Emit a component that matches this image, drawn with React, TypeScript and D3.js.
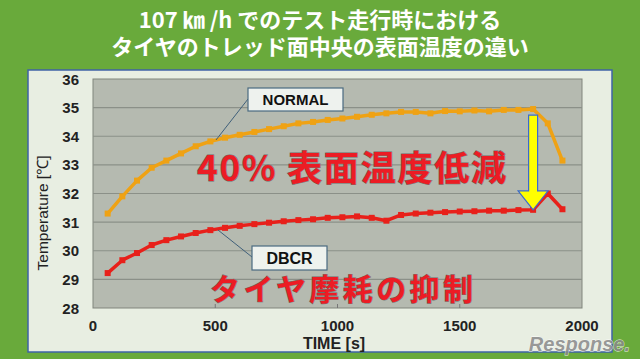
import React from 'react';
import * as d3 from 'd3';

const times = [60, 120, 180, 240, 300, 360, 420, 480, 540, 600, 660, 720, 780, 840, 900, 960,
  1020, 1080, 1140, 1200, 1260, 1320, 1380, 1440, 1500, 1560, 1620, 1680, 1740, 1800, 1860, 1920];
const normal = [31.3, 31.9, 32.45, 32.9, 33.15, 33.4, 33.65, 33.82, 33.95, 34.05, 34.15, 34.25, 34.35, 34.45, 34.5, 34.57,
  34.62, 34.68, 34.75, 34.8, 34.85, 34.85, 34.8, 34.88, 34.87, 34.9, 34.87, 34.92, 34.92, 34.95, 34.45, 33.15];
const dbcr = [29.22, 29.67, 29.92, 30.2, 30.37, 30.5, 30.62, 30.72, 30.8, 30.87, 30.93, 30.98, 31.03, 31.07, 31.1, 31.15,
  31.17, 31.2, 31.15, 31.05, 31.25, 31.3, 31.33, 31.35, 31.37, 31.38, 31.4, 31.4, 31.42, 31.43, 32.0, 31.45];
const xTicks = [0, 500, 1000, 1500, 2000];
const yTicks = [28, 29, 30, 31, 32, 33, 34, 35, 36];
const titleLines = ['107 ㎞ /h でのテスト走行時における', 'タイヤのトレッド面中央の表面温度の違い'];

const W = 640, H = 359;
const plot = { left: 93, top: 79, right: 582, bottom: 308 };
const jp = '"Noto Sans CJK JP", sans-serif';
const sans = '"Liberation Sans", Arial, sans-serif';

export default function App() {
  const x = d3.scaleLinear().domain([0, 2000]).range([plot.left, plot.right]);
  const y = d3.scaleLinear().domain([28, 36]).range([plot.bottom, plot.top]);
  const line = d3.line<number>().x((_, i) => x(times[i])).y(d => y(d));

  // arrow between the two curves at t = 1800 s
  const ai = times.indexOf(1800);
  const ax = x(times[ai]);
  const aTop = y(normal[ai]) + 6;
  const aTip = y(dbcr[ai]);
  const headTop = aTip - 19;
  const arrow = `M${ax - 4.5},${aTop} L${ax + 4.5},${aTop} L${ax + 4.5},${headTop} L${ax + 15},${headTop} L${ax},${aTip} L${ax - 15},${headTop} L${ax - 4.5},${headTop} Z`;

  const series = [
    { data: normal, color: '#efa214' },
    { data: dbcr, color: '#e8201a' },
  ];

  return (
    <svg width={W} height={H} style={{ position: 'absolute', left: 0, top: 0 }}>
      <rect x={0} y={0} width={W} height={H} fill="#69aa3b" />
      {titleLines.map((t, i) => (
        <text key={i} x={W / 2} y={28 + i * 27} textAnchor="middle" fill="#fff"
          fontFamily={jp} fontWeight={700} fontSize={22}>{t}</text>
      ))}
      <rect x={28} y={70} width={584} height={282} fill="#e8eee2" stroke="#3f63a6" strokeWidth={1.5} />
      <rect x={plot.left} y={plot.top} width={plot.right - plot.left} height={plot.bottom - plot.top}
        fill="#b5bab0" stroke="#80857c" strokeWidth={1} />
      {yTicks.slice(1, -1).map(v => (
        <line key={v} x1={plot.left} x2={plot.right} y1={y(v)} y2={y(v)} stroke="#8b9088" strokeWidth={1.2} />
      ))}
      {xTicks.slice(1, -1).map(v => (
        <line key={v} x1={x(v)} x2={x(v)} y1={plot.bottom} y2={plot.bottom - 4} stroke="#777" strokeWidth={1} />
      ))}
      {yTicks.map(v => (
        <text key={v} x={79} y={y(v) + 5.5} textAnchor="end" fontFamily={sans} fontWeight={700} fontSize={15} fill="#222">{v}</text>
      ))}
      {xTicks.map(v => (
        <text key={v} x={x(v)} y={331} textAnchor="middle" fontFamily={sans} fontWeight={700} fontSize={15} fill="#222">{v}</text>
      ))}
      <text transform={`translate(48,213) rotate(-90)`} textAnchor="middle" fontFamily={sans} fontSize={15.5} fill="#222">Temperature [℃]</text>
      <text x={334} y={349} textAnchor="middle" fontFamily={sans} fontWeight={700} fontSize={16} fill="#222">TIME [s]</text>

      {series.map((s, k) => (
        <g key={k}>
          <path d={line(s.data) || ''} fill="none" stroke={s.color} strokeWidth={3.5} strokeLinejoin="round" />
          {s.data.map((d, i) => (
            <rect key={i} x={x(times[i]) - 3} y={y(d) - 3} width={6} height={6} fill={s.color} />
          ))}
        </g>
      ))}

      <line x1={248} y1={99} x2={216} y2={140} stroke="#40607a" strokeWidth={1} />
      <rect x={248} y={88} width={95} height={23} fill="#eef2ee" stroke="#4a6a80" strokeWidth={1.2} />
      <text x={295.5} y={105} textAnchor="middle" fontFamily={sans} fontWeight={700} fontSize={15} fill="#111">NORMAL</text>

      <line x1={218} y1={230} x2={252} y2={257} stroke="#40607a" strokeWidth={1} />
      <rect x={252} y={246} width={75} height={24} fill="#eef2ee" stroke="#4a6a80" strokeWidth={1.2} />
      <text x={289.5} y={264} textAnchor="middle" fontFamily={sans} fontWeight={700} fontSize={16} fill="#111">DBCR</text>

      <path d={arrow} fill="#ffff00" stroke="#3a6ad0" strokeWidth={1.2} strokeLinejoin="miter" />

      <text x={197} y={181} fontFamily={jp} fontWeight={700} fontSize={35} fill="#ec1c24"
        stroke="#6e6e6e" strokeWidth={1} style={{ paintOrder: 'stroke' }} textLength={309}>40% 表面温度低減</text>
      <text x={210} y={300} fontFamily={jp} fontWeight={700} fontSize={30} fill="#ec1c24"
        stroke="#6e6e6e" strokeWidth={1} style={{ paintOrder: 'stroke' }} textLength={263}>タイヤ摩耗の抑制</text>

      <text x={630} y={351} textAnchor="end" fontFamily={sans} fontStyle="italic" fontWeight={700} fontSize={20}
        fill="#8a8a8a" stroke="#ffffff" strokeWidth={0.8} style={{ paintOrder: 'stroke' }} opacity={0.85}>Response.</text>
    </svg>
  );
}
